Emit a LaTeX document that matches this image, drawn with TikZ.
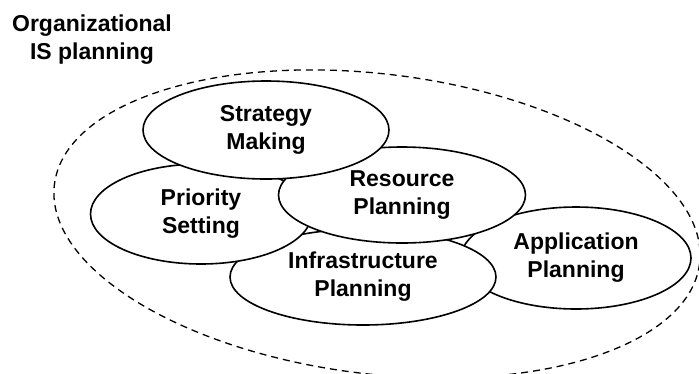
\documentclass[tikz,border=0pt]{standalone}
\usepackage{fontspec}
\setmainfont{Liberation Sans}
\usetikzlibrary{shapes.geometric}

\begin{document}
\begin{tikzpicture}[x=1pt, y=-1pt,
        every node/.style={font=\fontsize{23}{28}\selectfont\bfseries, align=center},
        part/.style={ellipse, draw, line width=1.6pt, fill=white, inner sep=0pt}]
        \useasboundingbox (0,0) rectangle (699,373);
        % outer scope
        \draw [line width=1.3pt, dash pattern=on 7pt off 5pt, shift={(377,224)}, rotate=-7]
                (0,0) ellipse [x radius=325, y radius=150];
        \node (title) at (92,40) {Organizational\\IS planning};
        % bottom to top
        \node [part, minimum width=230, minimum height=102] (app) at (576,258) {Application\\Planning};
        \node [part, minimum width=266, minimum height=96] (infra) at (363,277) {Infrastructure\\Planning};
        \node [part, minimum width=221, minimum height=100] (prio) at (201,214) {Priority\\Setting};
        \node [part, minimum width=247, minimum height=96] (res) at (402,195) {Resource\\Planning};
        \node [part, minimum width=246, minimum height=98] (strat) at (266,130) {Strategy\\Making};
\end{tikzpicture}
\end{document}
